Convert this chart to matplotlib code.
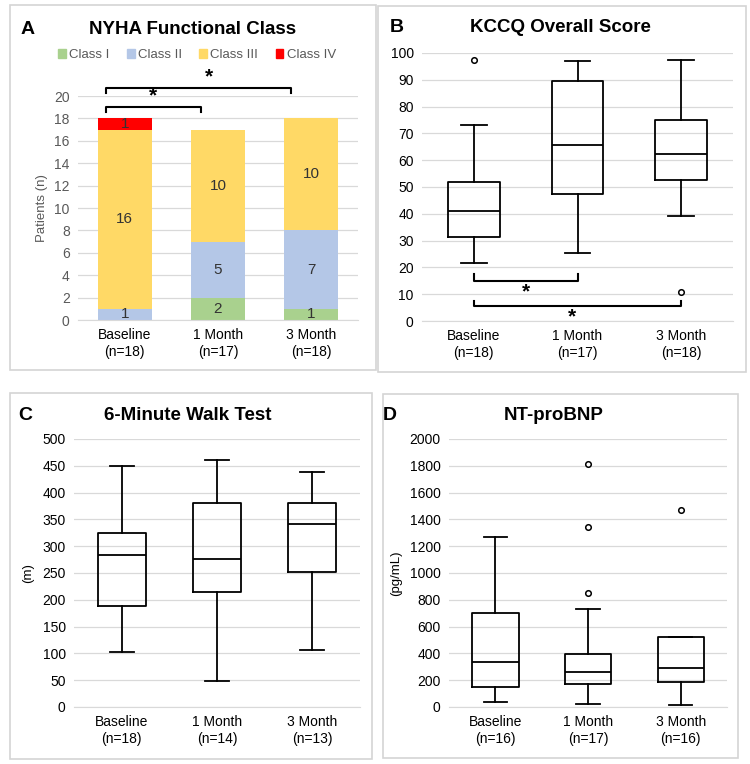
import matplotlib.pyplot as plt
from matplotlib.patches import Rectangle, Patch

W, H = 750, 764

# ---- data ----
timepoints = ["Baseline", "1 Month", "3 Month"]

nyha_classes = ["Class I", "Class II", "Class III", "Class IV"]
nyha_n = ["(n=18)", "(n=17)", "(n=18)"]
class_i = [0, 2, 1]
class_ii = [1, 5, 7]
class_iii = [16, 10, 10]
class_iv = [1, 0, 0]

kccq_n = ["(n=18)", "(n=17)", "(n=18)"]
kccq_low = [21.5, 25.5, 39]
kccq_q1 = [31.5, 47.5, 52.5]
kccq_med = [41, 65.5, 62.5]
kccq_q3 = [52, 89.5, 75]
kccq_high = [73, 97, 97.5]
kccq_out = [[97.5], [], [11]]

walk_n = ["(n=18)", "(n=14)", "(n=13)"]
walk_low = [102, 48, 106]
walk_q1 = [188, 215, 252]
walk_med = [284, 277, 342]
walk_q3 = [325, 381, 381]
walk_high = [450, 461, 439]

bnp_n = ["(n=16)", "(n=17)", "(n=16)"]
bnp_low = [40, 25, 15]
bnp_q1 = [150, 170, 185]
bnp_med = [335, 260, 290]
bnp_q3 = [700, 395, 520]
bnp_high = [1270, 730, 520]
bnp_out = [[], [850, 1340, 1810], [1470]]

plt.rcParams["font.family"] = ["Liberation Sans", "DejaVu Sans"]

fig = plt.figure(figsize=(W / 100, H / 100), dpi=100)


def px_axes(left, top, right, bottom):
    return fig.add_axes([left / W, 1 - bottom / H, (right - left) / W, (bottom - top) / H])


def panel_frame(left, top, right, bottom):
    fig.patches.append(Rectangle((left / W, 1 - bottom / H), (right - left) / W, (bottom - top) / H,
                                 transform=fig.transFigure, fill=False, edgecolor="#d4d4d4", lw=1.2))


def style_axes(ax, ymax, step, tick_color):
    ax.set_ylim(0, ymax)
    ax.set_yticks(range(0, ymax + 1, step))
    ax.grid(axis="y", color="#d9d9d9", lw=0.9)
    ax.set_axisbelow(True)
    for s in ["top", "right", "left"]:
        ax.spines[s].set_visible(False)
    ax.spines["bottom"].set_color("#d9d9d9")
    ax.tick_params(axis="both", length=0, labelsize=10, colors=tick_color, pad=6)


def header(letter, title, x_letter, x_title, y):
    fig.text(x_letter / W, 1 - y / H, letter, fontsize=14, fontweight="bold", va="center", ha="center")
    fig.text(x_title / W, 1 - y / H, title, fontsize=13.5, fontweight="bold", va="center", ha="center")


def boxes(ax, low, q1, med, q3, high, fliers):
    stats = []
    for i in range(len(med)):
        stats.append(dict(whislo=low[i], q1=q1[i], med=med[i], q3=q3[i], whishi=high[i], fliers=fliers[i]))
    ax.bxp(stats, positions=[1, 2, 3], widths=0.5, showfliers=True,
           boxprops=dict(color="black", lw=1.3), medianprops=dict(color="black", lw=1.3),
           whiskerprops=dict(color="black", lw=1.3), capprops=dict(color="black", lw=1.3),
           flierprops=dict(marker="o", markersize=4, markerfacecolor="white", markeredgecolor="black", mew=1.1))
    ax.set_xlim(0.5, 3.5)


# ---- panel frames ----
panel_frame(10, 5, 376, 370)
panel_frame(378, 6, 746, 372)
panel_frame(10, 393, 372, 759)
panel_frame(383, 394, 738, 758)

# ---- A: NYHA ----
axA = px_axes(78, 96, 358, 320)
x = range(len(timepoints))
colors = ["#a9d18e", "#b4c7e7", "#ffd966", "#ff0000"]
bottom = [0, 0, 0]
for vals, c, name in zip([class_i, class_ii, class_iii, class_iv], colors, nyha_classes):
    axA.bar(x, vals, 0.58, bottom=bottom, color=c, label=name)
    for i, v in enumerate(vals):
        if v > 0:
            axA.text(i, bottom[i] + v / 2, str(v), ha="center", va="center", fontsize=11, color="#333333")
    bottom = [b + v for b, v in zip(bottom, vals)]
style_axes(axA, 20, 2, "#595959")
axA.set_xlim(-0.5, 2.5)
axA.set_xticks(list(x))
axA.set_xticklabels([f"{t}\n{n}" for t, n in zip(timepoints, nyha_n)], color="black")
axA.set_ylabel("Patients (n)", color="#595959", fontsize=9.5, labelpad=4)
# significance brackets
axA.plot([-0.2, -0.2, 0.82, 0.82], [18.6, 19.05, 19.05, 18.6], color="black", lw=1.5, clip_on=False)
axA.text(0.3, 19.2, "*", ha="center", va="bottom", fontsize=15, fontweight="bold")
axA.plot([-0.2, -0.2, 1.78, 1.78], [20.25, 20.7, 20.7, 20.25], color="black", lw=1.5, clip_on=False)
axA.text(0.9, 20.85, "*", ha="center", va="bottom", fontsize=15, fontweight="bold")
handles = [Patch(color=c) for c in colors]
fig.legend(handles, nyha_classes, loc="center", bbox_to_anchor=(197 / W, 1 - 55 / H), ncol=4,
           frameon=False, fontsize=9.5, handlelength=0.6, handleheight=0.6, handletextpad=0.25,
           columnspacing=1.3, labelcolor="#595959")
header("A", "NYHA Functional Class", 28, 193, 29)

# ---- B: KCCQ ----
axB = px_axes(422, 53, 733, 321)
boxes(axB, kccq_low, kccq_q1, kccq_med, kccq_q3, kccq_high, kccq_out)
style_axes(axB, 100, 10, "black")
axB.set_xticks([1, 2, 3])
axB.set_xticklabels([f"{t}\n{n}" for t, n in zip(timepoints, kccq_n)])
axB.plot([1, 1, 2, 2], [17.5, 15, 15, 17.5], color="black", lw=1.5)
axB.text(1.5, 11, "*", ha="center", va="center", fontsize=15, fontweight="bold")
axB.plot([1, 1, 3, 3], [7.5, 5.5, 5.5, 7.5], color="black", lw=1.5)
axB.text(1.95, 1.5, "*", ha="center", va="center", fontsize=15, fontweight="bold")
header("B", "KCCQ Overall Score", 397, 560, 28)

# ---- C: 6MWT ----
axC = px_axes(74, 439, 360, 707)
boxes(axC, walk_low, walk_q1, walk_med, walk_q3, walk_high, [[], [], []])
style_axes(axC, 500, 50, "black")
axC.set_xticks([1, 2, 3])
axC.set_xticklabels([f"{t}\n{n}" for t, n in zip(timepoints, walk_n)])
axC.set_ylabel("(m)", fontsize=9.5, labelpad=6)
header("C", "6-Minute Walk Test", 25, 188, 415)

# ---- D: NT-proBNP ----
axD = px_axes(449, 439, 727, 707)
boxes(axD, bnp_low, bnp_q1, bnp_med, bnp_q3, bnp_high, bnp_out)
style_axes(axD, 2000, 200, "black")
axD.set_xticks([1, 2, 3])
axD.set_xticklabels([f"{t}\n{n}" for t, n in zip(timepoints, bnp_n)])
axD.set_ylabel("(pg/mL)", fontsize=9.5, labelpad=5)
header("D", "NT-proBNP", 390, 554, 415)

fig.savefig("out.png", dpi=100)
